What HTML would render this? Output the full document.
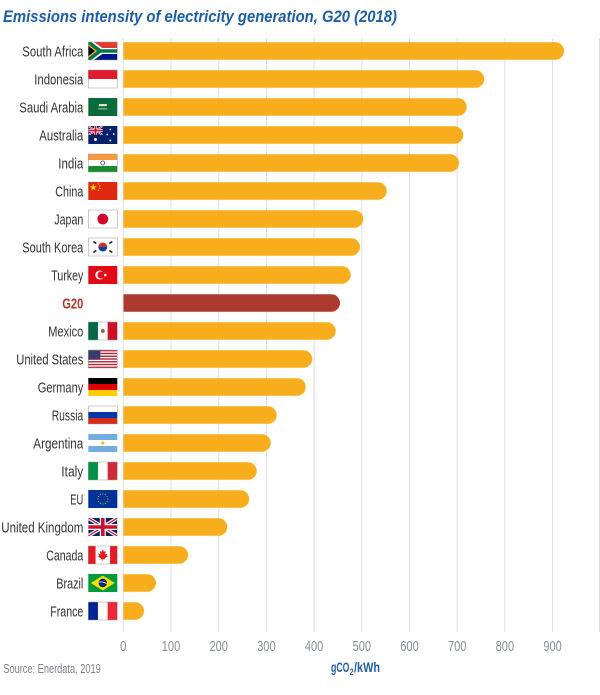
<!DOCTYPE html>
<html><head><meta charset="utf-8">
<style>
html,body{margin:0;padding:0;background:#fff;}
svg{display:block;}
.lb{font-family:"Liberation Sans Narrow","Liberation Sans",sans-serif;font-size:15px;fill:#333;}
.tk{font-family:"Liberation Sans Narrow","Liberation Sans",sans-serif;font-size:15px;fill:#8a8f97;}
</style></head>
<body>
<svg width="600" height="695" viewBox="0 0 600 695" xmlns="http://www.w3.org/2000/svg">
<defs>
<clipPath id="fc" clipPathUnits="userSpaceOnUse"><rect x="0" y="0" width="29" height="18"/></clipPath>
<clipPath id="cc" clipPathUnits="userSpaceOnUse"><rect x="0" y="0" width="14.5" height="9"/></clipPath>
<g id="uj">
<rect width="29" height="18" fill="#012169"/>
<path d="M0,0L29,18M29,0L0,18" stroke="#fff" stroke-width="3.6"/>
<path d="M0,0L29,18M29,0L0,18" stroke="#c8102e" stroke-width="1.2"/>
<path d="M14.5,0V18M0,9H29" stroke="#fff" stroke-width="6"/>
<path d="M14.5,0V18M0,9H29" stroke="#c8102e" stroke-width="3.6"/>
</g>
</defs>
<rect width="600" height="695" fill="#fff"/>

<text x="3" y="22" font-family="Liberation Sans, sans-serif" font-weight="bold" font-style="italic" font-size="17" fill="#1d5ea8" textLength="394" lengthAdjust="spacingAndGlyphs">Emissions intensity of electricity generation, G20 (2018)</text>

<!-- gridlines -->
<g stroke="#dcdde1" stroke-width="1">
<line x1="123.3" y1="38" x2="123.3" y2="632"/>
<line x1="171" y1="38" x2="171" y2="632"/>
<line x1="218.7" y1="38" x2="218.7" y2="632"/>
<line x1="266.4" y1="38" x2="266.4" y2="632"/>
<line x1="314.1" y1="38" x2="314.1" y2="632"/>
<line x1="361.8" y1="38" x2="361.8" y2="632"/>
<line x1="409.5" y1="38" x2="409.5" y2="632"/>
<line x1="457.2" y1="38" x2="457.2" y2="632"/>
<line x1="504.9" y1="38" x2="504.9" y2="632"/>
<line x1="552.6" y1="38" x2="552.6" y2="632"/>
<line x1="599.5" y1="38" x2="599.5" y2="632"/>
</g>

<!-- bars -->
<g fill="#f8ad1d">
<path d="M123.5,42.25H555.25A8.75,8.75 0 0 1 555.25,59.75H123.5Z"/>
<path d="M123.5,70.25H475.5A8.75,8.75 0 0 1 475.5,87.75H123.5Z"/>
<path d="M123.5,98.25H458A8.75,8.75 0 0 1 458,115.75H123.5Z"/>
<path d="M123.5,126.25H454.5A8.75,8.75 0 0 1 454.5,143.75H123.5Z"/>
<path d="M123.5,154.25H450.25A8.75,8.75 0 0 1 450.25,171.75H123.5Z"/>
<path d="M123.5,182.25H378A8.75,8.75 0 0 1 378,199.75H123.5Z"/>
<path d="M123.5,210.25H354.5A8.75,8.75 0 0 1 354.5,227.75H123.5Z"/>
<path d="M123.5,238.25H351.25A8.75,8.75 0 0 1 351.25,255.75H123.5Z"/>
<path d="M123.5,266.25H342A8.75,8.75 0 0 1 342,283.75H123.5Z"/>
<path d="M123.5,322.25H327A8.75,8.75 0 0 1 327,339.75H123.5Z"/>
<path d="M123.5,350.25H303.5A8.75,8.75 0 0 1 303.5,367.75H123.5Z"/>
<path d="M123.5,378.25H297A8.75,8.75 0 0 1 297,395.75H123.5Z"/>
<path d="M123.5,406.25H268A8.75,8.75 0 0 1 268,423.75H123.5Z"/>
<path d="M123.5,434.25H262A8.75,8.75 0 0 1 262,451.75H123.5Z"/>
<path d="M123.5,462.25H248A8.75,8.75 0 0 1 248,479.75H123.5Z"/>
<path d="M123.5,490.25H240.5A8.75,8.75 0 0 1 240.5,507.75H123.5Z"/>
<path d="M123.5,518.25H218.5A8.75,8.75 0 0 1 218.5,535.75H123.5Z"/>
<path d="M123.5,546.25H179.25A8.75,8.75 0 0 1 179.25,563.75H123.5Z"/>
<path d="M123.5,574.25H147.25A8.75,8.75 0 0 1 147.25,591.75H123.5Z"/>
<path d="M123.5,602.25H135.25A8.75,8.75 0 0 1 135.25,619.75H123.5Z"/>
</g>
<path d="M123.5,294.25H331.25A8.75,8.75 0 0 1 331.25,311.75H123.5Z" fill="#ad3a2e"/>

<!-- labels -->
<text class="lb" x="83.3" y="56.5" text-anchor="end" textLength="61" lengthAdjust="spacingAndGlyphs">South Africa</text>
<text class="lb" x="83.3" y="84.5" text-anchor="end" textLength="49" lengthAdjust="spacingAndGlyphs">Indonesia</text>
<text class="lb" x="83.3" y="112.5" text-anchor="end" textLength="64" lengthAdjust="spacingAndGlyphs">Saudi Arabia</text>
<text class="lb" x="83.3" y="140.5" text-anchor="end" textLength="44" lengthAdjust="spacingAndGlyphs">Australia</text>
<text class="lb" x="83.3" y="168.5" text-anchor="end" textLength="25" lengthAdjust="spacingAndGlyphs">India</text>
<text class="lb" x="83.3" y="196.5" text-anchor="end" textLength="28" lengthAdjust="spacingAndGlyphs">China</text>
<text class="lb" x="83.3" y="224.5" text-anchor="end" textLength="29" lengthAdjust="spacingAndGlyphs">Japan</text>
<text class="lb" x="83.3" y="252.5" text-anchor="end" textLength="61" lengthAdjust="spacingAndGlyphs">South Korea</text>
<text class="lb" x="83.3" y="280.5" text-anchor="end" textLength="32" lengthAdjust="spacingAndGlyphs">Turkey</text>
<text class="lb" x="83.3" y="308.5" text-anchor="end" textLength="21" lengthAdjust="spacingAndGlyphs" font-weight="bold" style="fill:#a8372c">G20</text>
<text class="lb" x="83.3" y="336.5" text-anchor="end" textLength="35" lengthAdjust="spacingAndGlyphs">Mexico</text>
<text class="lb" x="83.3" y="364.5" text-anchor="end" textLength="67" lengthAdjust="spacingAndGlyphs">United States</text>
<text class="lb" x="83.3" y="392.5" text-anchor="end" textLength="45.6" lengthAdjust="spacingAndGlyphs">Germany</text>
<text class="lb" x="83.3" y="420.5" text-anchor="end" textLength="31.6" lengthAdjust="spacingAndGlyphs">Russia</text>
<text class="lb" x="83.3" y="448.5" text-anchor="end" textLength="50" lengthAdjust="spacingAndGlyphs">Argentina</text>
<text class="lb" x="83.3" y="476.5" text-anchor="end" textLength="22" lengthAdjust="spacingAndGlyphs">Italy</text>
<text class="lb" x="83.3" y="504.5" text-anchor="end" textLength="13" lengthAdjust="spacingAndGlyphs">EU</text>
<text class="lb" x="83.3" y="532.5" text-anchor="end" textLength="82" lengthAdjust="spacingAndGlyphs">United Kingdom</text>
<text class="lb" x="83.3" y="560.5" text-anchor="end" textLength="37" lengthAdjust="spacingAndGlyphs">Canada</text>
<text class="lb" x="83.3" y="588.5" text-anchor="end" textLength="27" lengthAdjust="spacingAndGlyphs">Brazil</text>
<text class="lb" x="83.3" y="616.5" text-anchor="end" textLength="33" lengthAdjust="spacingAndGlyphs">France</text>

<!-- flags -->
<!-- South Africa -->
<g transform="translate(88.3,42)"><g clip-path="url(#fc)">
<rect width="29" height="9" fill="#e03c31"/><rect y="9" width="29" height="9" fill="#001489"/>
<polygon points="0,0 5.5,0 14,6 29,6 29,12 14,12 5.5,18 0,18" fill="#fff"/>
<polygon points="0,0 3,0 12.5,7.2 29,7.2 29,10.8 12.5,10.8 3,18 0,18" fill="#007749"/>
<polygon points="0,2.3 8.8,9 0,15.7" fill="#ffb81c"/>
<polygon points="0,3.8 6.8,9 0,14.2" fill="#000"/>
</g><rect width="29" height="18" fill="none" stroke="#999" stroke-width="0.5"/></g>
<!-- Indonesia -->
<g transform="translate(88.3,70)"><rect width="29" height="9" fill="#e21a2c"/><rect y="9" width="29" height="9" fill="#fff"/><rect width="29" height="18" fill="none" stroke="#999" stroke-width="0.5"/></g>
<!-- Saudi -->
<g transform="translate(88.3,98)"><rect width="29" height="18" fill="#0b6b3a"/><rect x="10.5" y="6" width="8" height="2.2" fill="#d8e6dc"/><rect x="10" y="10.5" width="9" height="0.8" fill="#d8e6dc"/></g>
<!-- Australia -->
<g transform="translate(88.3,126)"><rect width="29" height="18" fill="#012169"/>
<g clip-path="url(#cc)"><g transform="scale(0.5)"><use href="#uj"/></g></g>
<circle cx="7.2" cy="13.5" r="1.5" fill="#fff"/><circle cx="22" cy="3.5" r="0.9" fill="#fff"/><circle cx="25.5" cy="8" r="0.9" fill="#fff"/><circle cx="22" cy="14.5" r="1" fill="#fff"/><circle cx="19" cy="8.5" r="0.9" fill="#fff"/></g>
<!-- India -->
<g transform="translate(88.3,154)"><rect width="29" height="6" fill="#f7993a"/><rect y="6" width="29" height="6" fill="#fff"/><rect y="12" width="29" height="6" fill="#1a8a2f"/><circle cx="14.5" cy="9" r="2" fill="none" stroke="#1a237e" stroke-width="0.7"/><rect width="29" height="18" fill="none" stroke="#999" stroke-width="0.5"/></g>
<!-- China -->
<g transform="translate(88.3,182)"><rect width="29" height="18" fill="#de2910"/><polygon points="5,1.8 5.9,4.3 8.5,4.3 6.4,5.9 7.2,8.4 5,6.9 2.8,8.4 3.6,5.9 1.5,4.3 4.1,4.3" fill="#ffde00"/><circle cx="10" cy="2" r="0.7" fill="#ffde00"/><circle cx="11.5" cy="4" r="0.7" fill="#ffde00"/><circle cx="11.5" cy="6.5" r="0.7" fill="#ffde00"/><circle cx="10" cy="8.3" r="0.7" fill="#ffde00"/></g>
<!-- Japan -->
<g transform="translate(88.3,210)"><rect width="29" height="18" fill="#fff"/><circle cx="14.5" cy="9" r="5.4" fill="#d2002a"/><rect width="29" height="18" fill="none" stroke="#999" stroke-width="0.5"/></g>
<!-- Korea -->
<g transform="translate(88.3,238)"><rect width="29" height="18" fill="#fff"/><path d="M10,9A4.5,4.5 0 0 1 19,9Z" fill="#cd2e3a"/><path d="M10,9A4.5,4.5 0 0 0 19,9Z" fill="#0047a0"/>
<g stroke="#222" stroke-width="1.6"><line x1="5" y1="3.5" x2="8" y2="5.5"/><line x1="21" y1="5.5" x2="24" y2="3.5"/><line x1="5" y1="14.5" x2="8" y2="12.5"/><line x1="21" y1="12.5" x2="24" y2="14.5"/></g>
<rect width="29" height="18" fill="none" stroke="#999" stroke-width="0.5"/></g>
<!-- Turkey -->
<g transform="translate(88.3,266)"><rect width="29" height="18" fill="#e30a17"/><circle cx="11.5" cy="9" r="4.5" fill="#fff"/><circle cx="12.7" cy="9" r="3.6" fill="#e30a17"/><circle cx="17" cy="9" r="1.3" fill="#fff"/></g>
<!-- Mexico -->
<g transform="translate(88.3,322)"><rect width="9.67" height="18" fill="#006847"/><rect x="9.67" width="9.67" height="18" fill="#fff"/><rect x="19.33" width="9.67" height="18" fill="#ce1126"/><circle cx="14.5" cy="9" r="2" fill="#8c6a3c"/><rect width="29" height="18" fill="none" stroke="#999" stroke-width="0.5"/></g>
<!-- USA -->
<g transform="translate(88.3,350)"><rect width="29" height="18" fill="#fff"/>
<g fill="#b22234"><rect y="0" width="29" height="1.385"/><rect y="2.77" width="29" height="1.385"/><rect y="5.54" width="29" height="1.385"/><rect y="8.31" width="29" height="1.385"/><rect y="11.08" width="29" height="1.385"/><rect y="13.85" width="29" height="1.385"/><rect y="16.62" width="29" height="1.385"/></g>
<rect width="12" height="9.7" fill="#3c3b6e"/><rect width="29" height="18" fill="none" stroke="#999" stroke-width="0.5"/></g>
<!-- Germany -->
<g transform="translate(88.3,378)"><rect width="29" height="6" fill="#000"/><rect y="6" width="29" height="6" fill="#dd0000"/><rect y="12" width="29" height="6" fill="#ffce00"/></g>
<!-- Russia -->
<g transform="translate(88.3,406)"><rect width="29" height="6" fill="#fff"/><rect y="6" width="29" height="6" fill="#0039a6"/><rect y="12" width="29" height="6" fill="#d52b1e"/><rect width="29" height="18" fill="none" stroke="#999" stroke-width="0.5"/></g>
<!-- Argentina -->
<g transform="translate(88.3,434)"><rect width="29" height="6" fill="#74acdf"/><rect y="6" width="29" height="6" fill="#fff"/><rect y="12" width="29" height="6" fill="#74acdf"/><circle cx="14.5" cy="9" r="1.6" fill="#f6b40e"/></g>
<!-- Italy -->
<g transform="translate(88.3,462)"><rect width="9.67" height="18" fill="#009246"/><rect x="9.67" width="9.67" height="18" fill="#fff"/><rect x="19.33" width="9.67" height="18" fill="#ce2b37"/><rect width="29" height="18" fill="none" stroke="#999" stroke-width="0.5"/></g>
<!-- EU -->
<g transform="translate(88.3,490)"><rect width="29" height="18" fill="#003399"/>
<g fill="#ffcc00"><circle cx="14.5" cy="4" r="0.55"/><circle cx="17" cy="4.67" r="0.55"/><circle cx="18.83" cy="6.5" r="0.55"/><circle cx="19.5" cy="9" r="0.55"/><circle cx="18.83" cy="11.5" r="0.55"/><circle cx="17" cy="13.33" r="0.55"/><circle cx="14.5" cy="14" r="0.55"/><circle cx="12" cy="13.33" r="0.55"/><circle cx="10.17" cy="11.5" r="0.55"/><circle cx="9.5" cy="9" r="0.55"/><circle cx="10.17" cy="6.5" r="0.55"/><circle cx="12" cy="4.67" r="0.55"/></g></g>
<!-- UK -->
<g transform="translate(88.3,518)"><g clip-path="url(#fc)"><use href="#uj"/></g></g>
<!-- Canada -->
<g transform="translate(88.3,546)"><rect width="29" height="18" fill="#fff"/><rect width="7.25" height="18" fill="#e31b23"/><rect x="21.75" width="7.25" height="18" fill="#e31b23"/>
<polygon points="14.5,3.5 15.7,5.8 17.5,5 16.8,8.5 19,7.5 18.3,9.8 19.5,10.3 16.5,12.3 16.8,13.3 14.8,13.2 14.8,15 14.2,15 14.2,13.2 12.2,13.3 12.5,12.3 9.5,10.3 10.7,9.8 10,7.5 12.2,8.5 11.5,5 13.3,5.8" fill="#e31b23"/>
<rect width="29" height="18" fill="none" stroke="#999" stroke-width="0.5"/></g>
<!-- Brazil -->
<g transform="translate(88.3,574)"><rect width="29" height="18" fill="#009c3b"/><polygon points="2.5,9 14.5,1.6 26.5,9 14.5,16.4" fill="#ffdf00"/><circle cx="14.5" cy="9" r="4.2" fill="#002776"/><path d="M10.5,8.2Q14.5,7 18.5,9.8" stroke="#fff" stroke-width="0.7" fill="none"/></g>
<!-- France -->
<g transform="translate(88.3,602)"><rect width="9.67" height="18" fill="#002395"/><rect x="9.67" width="9.67" height="18" fill="#fff"/><rect x="19.33" width="9.67" height="18" fill="#ed2939"/><rect width="29" height="18" fill="none" stroke="#999" stroke-width="0.5"/></g>

<!-- tick labels -->
<text class="tk" x="123.3" y="651" text-anchor="middle" textLength="6.5" lengthAdjust="spacingAndGlyphs">0</text>
<text class="tk" x="171" y="651" text-anchor="middle" textLength="18.5" lengthAdjust="spacingAndGlyphs">100</text>
<text class="tk" x="218.7" y="651" text-anchor="middle" textLength="18.5" lengthAdjust="spacingAndGlyphs">200</text>
<text class="tk" x="266.4" y="651" text-anchor="middle" textLength="18.5" lengthAdjust="spacingAndGlyphs">300</text>
<text class="tk" x="314.1" y="651" text-anchor="middle" textLength="18.5" lengthAdjust="spacingAndGlyphs">400</text>
<text class="tk" x="361.8" y="651" text-anchor="middle" textLength="18.5" lengthAdjust="spacingAndGlyphs">500</text>
<text class="tk" x="409.5" y="651" text-anchor="middle" textLength="18.5" lengthAdjust="spacingAndGlyphs">600</text>
<text class="tk" x="457.2" y="651" text-anchor="middle" textLength="18.5" lengthAdjust="spacingAndGlyphs">700</text>
<text class="tk" x="504.9" y="651" text-anchor="middle" textLength="18.5" lengthAdjust="spacingAndGlyphs">800</text>
<text class="tk" x="552.6" y="651" text-anchor="middle" textLength="18.5" lengthAdjust="spacingAndGlyphs">900</text>

<!-- source -->
<text x="3.3" y="673" font-family="Liberation Sans Narrow, Liberation Sans, sans-serif" font-size="13" fill="#7d838b" textLength="97.5" lengthAdjust="spacingAndGlyphs">Source: Enerdata, 2019</text>

<!-- unit -->
<g font-family="Liberation Sans Narrow, Liberation Sans, sans-serif" font-weight="bold" fill="#1f5fa6">
<text x="331" y="672" font-size="14" textLength="18.5" lengthAdjust="spacingAndGlyphs">gCO</text>
<text x="349.8" y="675" font-size="9" textLength="3.8" lengthAdjust="spacingAndGlyphs">2</text>
<text x="354" y="672" font-size="14" textLength="26" lengthAdjust="spacingAndGlyphs">/kWh</text>
</g>
</svg>
</body></html>
